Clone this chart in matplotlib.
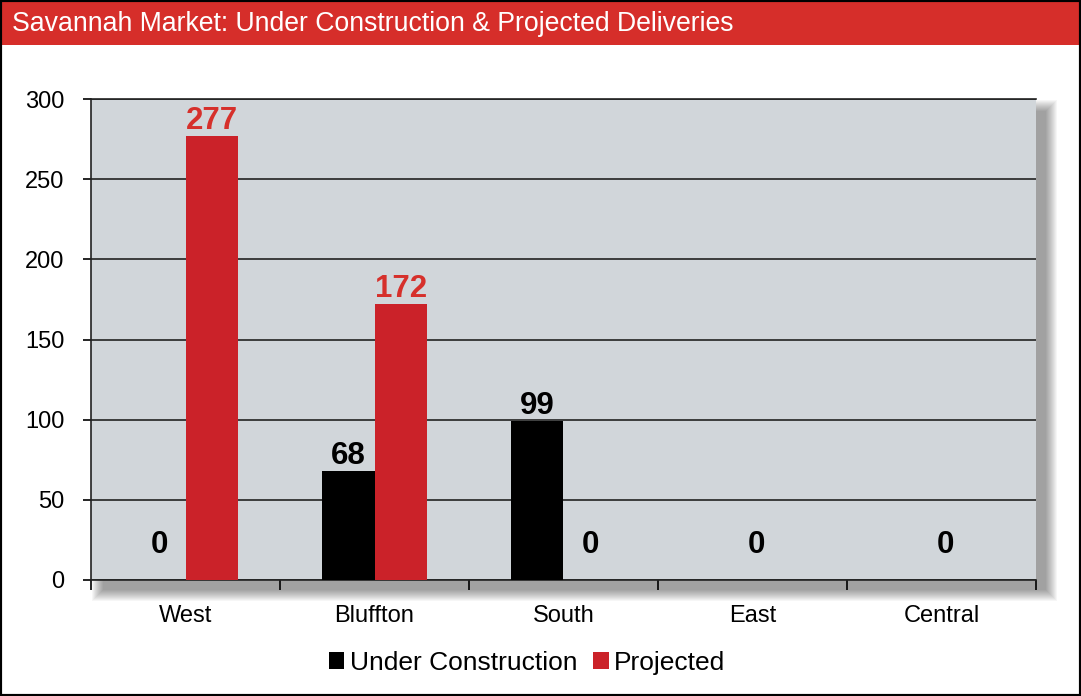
import numpy as np
import matplotlib.pyplot as plt
from matplotlib.patches import Rectangle

plt.rcParams['font.family'] = ['Liberation Sans', 'DejaVu Sans']

regions = ['West', 'Bluffton', 'South', 'East', 'Central']
under_construction = [0, 68, 99, 0, 0]
projected = [277, 172, 0, 0, 0]
y_ticks = [0, 50, 100, 150, 200, 250, 300]
title = 'Savannah Market: Under Construction & Projected Deliveries'

W, H = 1081, 696
fig = plt.figure(figsize=(W / 100, H / 100), dpi=100)


def box(x0, y0, x1, y1):
    # pixel box (top-left origin) -> figure fraction rect
    return [x0 / W, 1 - y1 / H, (x1 - x0) / W, (y1 - y0) / H]


# plot area, in pixels
L, T, R, B = 91, 99, 1036, 580
ax = fig.add_axes(box(L, T, R, B))
ax.set_facecolor('#d1d6da')

# soft drop shadow to the lower right
for k in range(12):
    r = box(L + 12 - k, T + 12 - k, R + 10 + k, B + 10 + k)
    fig.patches.append(Rectangle((r[0], r[1]), r[2], r[3], transform=fig.transFigure,
                                 facecolor='black', edgecolor='none', alpha=0.035, zorder=-2))

# header bar and outer frame
r = box(0, 0, W, 45)
fig.patches.append(Rectangle((r[0], r[1]), r[2], r[3], transform=fig.transFigure,
                             facecolor='#d62e2a', edgecolor='none', zorder=-1))
fig.patches.append(Rectangle((0, 0), 1, 1, transform=fig.transFigure, fill=False,
                             edgecolor='black', lw=3, zorder=5))
fig.text(12 / W, 1 - 24 / H, title, color='white', fontsize=19.2, va='center', ha='left')

x = np.arange(len(regions))
w = 0.28
ax.bar(x - w / 2, under_construction, w, color='black', label='Under Construction', zorder=3)
ax.bar(x + w / 2, projected, w, color='#cb2229', label='Projected', zorder=3)

# value labels
lab_kw = dict(fontsize=22.5, fontweight='bold', ha='center', textcoords='offset points', zorder=4)
for i in range(len(regions)):
    uc, pr = under_construction[i], projected[i]
    if uc == 0 and pr == 0:
        ax.annotate('0', (x[i] + 0.02, 0), xytext=(0, 25), va='center', color='black', **lab_kw)
        continue
    for val, xpos, col in [(uc, x[i] - w / 2, 'black'), (pr, x[i] + w / 2, '#d6302b')]:
        if val > 0:
            ax.annotate(str(val), (xpos, val), xytext=(0, 0), va='bottom', color=col, **lab_kw)
        else:
            ax.annotate('0', (xpos, 0), xytext=(0, 25), va='center', color='black', **lab_kw)

ax.set_xlim(-0.5, len(regions) - 0.5)
ax.set_ylim(0, 300)
ax.set_yticks(y_ticks)
ax.yaxis.grid(True, color='#222222', lw=1.2, zorder=1)
ax.set_axisbelow(True)
ax.tick_params(axis='y', labelsize=17, length=6, width=1.2, pad=13)

ax.set_xticks(np.arange(len(regions) + 1) - 0.5)
ax.set_xticklabels([])
ax.set_xticks(x, minor=True)
ax.set_xticklabels(regions, minor=True)
ax.tick_params(axis='x', which='major', length=7, width=1.2, direction='out')
ax.tick_params(axis='x', which='minor', length=0, labelsize=17, pad=18)

for s in ['left', 'bottom', 'top']:
    ax.spines[s].set_color('#222222')
    ax.spines[s].set_linewidth(1.2)
ax.spines['right'].set_visible(False)

fig.legend(loc='center', bbox_to_anchor=(0.4875, 1 - 663 / H), ncol=2, frameon=False,
           fontsize=19, handlelength=0.6, handleheight=0.6, handletextpad=0.2,
           columnspacing=0.6)

fig.savefig('out.png', dpi=100)
